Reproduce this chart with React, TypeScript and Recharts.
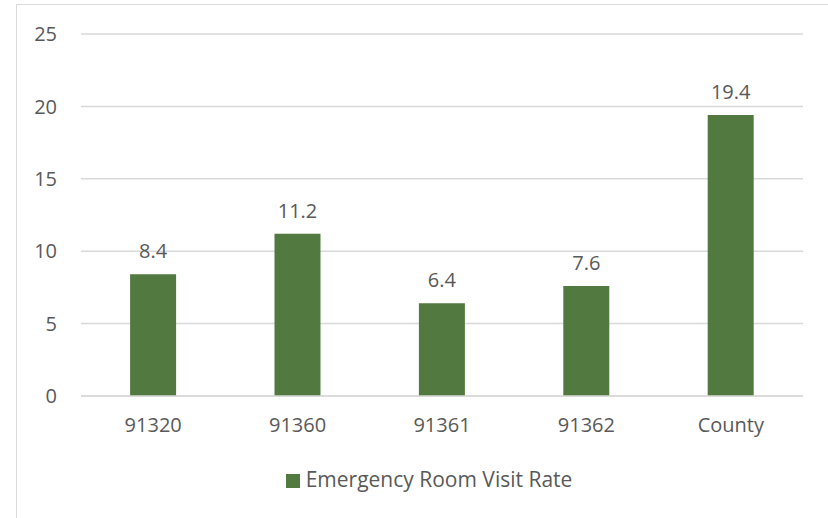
import { BarChart, Bar, XAxis, YAxis, CartesianGrid, Legend, LabelList } from 'recharts'

const zipCodes = ['91320', '91360', '91361', '91362', 'County']
const visitRates = [8.4, 11.2, 6.4, 7.6, 19.4]
const yTicks = [0, 5, 10, 15, 20, 25]

const data = zipCodes.map((zip, i) => ({ zip, rate: visitRates[i] }))

const FONT = '"Open Sans", sans-serif'
const TEXT = '#595959'
const GRID = '#d9d9d9'
const GREEN = '#52793f'

export default function App() {
  return (
    <div style={{ position: 'absolute', left: 0, top: 0, width: 828, height: 518, overflow: 'hidden', background: '#fff', fontFamily: FONT }}>
      {/* chart frame, runs off the right and bottom edge like the crop */}
      <div style={{ position: 'absolute', left: 16, top: 4, width: 900, height: 600, border: '1.5px solid #d9d9d9', boxSizing: 'border-box' }} />
      <div style={{ position: 'absolute', left: 0, top: 0 }}>
        <BarChart width={828} height={518} data={data} margin={{ top: 34, right: 25, left: 21, bottom: 13 }} barCategoryGap="34%">
          <CartesianGrid vertical={false} stroke={GRID} strokeWidth={1.5} />
          <XAxis
            dataKey="zip"
            height={69}
            axisLine={{ stroke: GRID, strokeWidth: 1.5 }}
            tickLine={false}
            tickMargin={16}
            tick={{ fill: TEXT, fontSize: 20, fontFamily: FONT }}
          />
          <YAxis
            width={60}
            domain={[0, 25]}
            ticks={yTicks}
            axisLine={false}
            tickLine={false}
            tickMargin={18}
            tick={{ fill: TEXT, fontSize: 20, fontFamily: FONT }}
          />
          <Legend
            verticalAlign="bottom"
            height={40}
            iconType="square"
            iconSize={14}
            wrapperStyle={{ fontFamily: FONT, fontSize: 21, paddingLeft: 22 }}
            formatter={(v) => <span style={{ color: TEXT, marginLeft: 2 }}>{v}</span>}
          />
          <Bar dataKey="rate" name="Emergency Room Visit Rate" fill={GREEN} isAnimationActive={false}>
            <LabelList dataKey="rate" position="top" offset={16} fill={TEXT} fontSize={20} fontFamily={FONT} formatter={(v: number) => v.toFixed(1)} />
          </Bar>
        </BarChart>
      </div>
    </div>
  )
}
